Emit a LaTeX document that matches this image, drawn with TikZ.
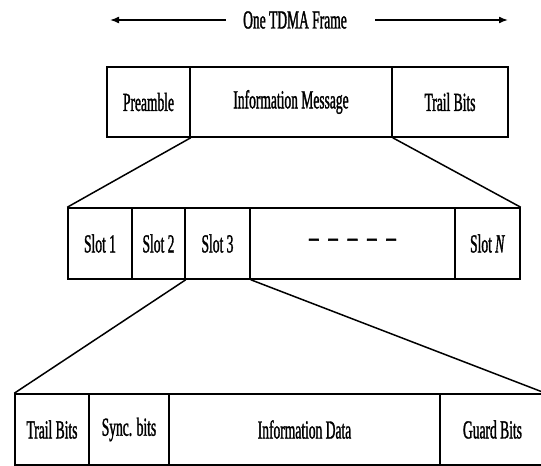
\documentclass[tikz,border=0pt]{standalone}
\usepackage{fontspec}
\setmainfont{Liberation Serif}[FakeStretch=0.52,FakeBold=1.2]
\usetikzlibrary{arrows.meta}
\begin{document}
\begin{tikzpicture}[x=1pt,y=-1pt,
  cell/.style={draw, line width=1.5pt, inner sep=0pt, minimum height=#1,
    font=\fontsize{26}{28}\selectfont},
  link/.style={line width=1.5pt},
  arr/.style={line width=1.5pt, -{Latex[length=9pt,width=7pt]}}]
\useasboundingbox (0,0) rectangle (541,466);
% title
\node[font=\fontsize{26}{28}\selectfont, inner sep=2pt] (title) at (295,20) {One TDMA Frame};
\coordinate (al) at (110,20);
\coordinate (ar) at (508,20);
\draw[arr, shorten <=15pt] (title.west) -- (al);
\draw[arr, shorten <=26pt] (title.east) -- (ar);
% top row (y 67..137)
\node[cell=70pt, minimum width=83pt]  (pre)   at (148.5,102) {Preamble};
\node[cell=70pt, minimum width=202pt] (info)  at (291,102)   {Information Message};
\node[cell=70pt, minimum width=116pt] (trail) at (450,102)   {Trail Bits};
% middle row (y 208..279)
\node[cell=71pt, minimum width=64pt]  (s1)   at (100,243.5)   {Slot 1};
\node[cell=71pt, minimum width=53pt]  (s2)   at (158.5,243.5) {Slot 2};
\node[cell=71pt, minimum width=65pt]  (s3)   at (217.5,243.5) {Slot 3};
\node[cell=71pt, minimum width=205pt, font=\fontsize{36}{38}\selectfont] (dots) at (352.5,243.5) {\textendash\hspace{10pt}\textendash\hspace{10pt}\textendash\hspace{10pt}\textendash\hspace{10pt}\textendash\hspace{6pt}};
\node[cell=71pt, minimum width=65pt]  (sN)   at (487.5,243.5) {Slot \textit{N}};
% bottom row (y 394..465)
\node[cell=71pt, minimum width=74pt]  (tb)    at (52,429.5)   {Trail Bits};
\node[cell=71pt, minimum width=80pt]  (sync)  at (129,429.5)  {Sync. bits};
\node[cell=71pt, minimum width=271pt] (data)  at (304.5,429.5){Information Data};
\node[cell=71pt, minimum width=105pt] (guard) at (492.5,429.5){Guard Bits};
% expansion lines
\draw[link] (pre.south east) -- (s1.north west);
\draw[link] (info.south east) -- (sN.north east);
\draw[link] (s2.south east) -- (tb.north west);
\draw[link] (s3.south east) -- (guard.north east);
\end{tikzpicture}
\end{document}
